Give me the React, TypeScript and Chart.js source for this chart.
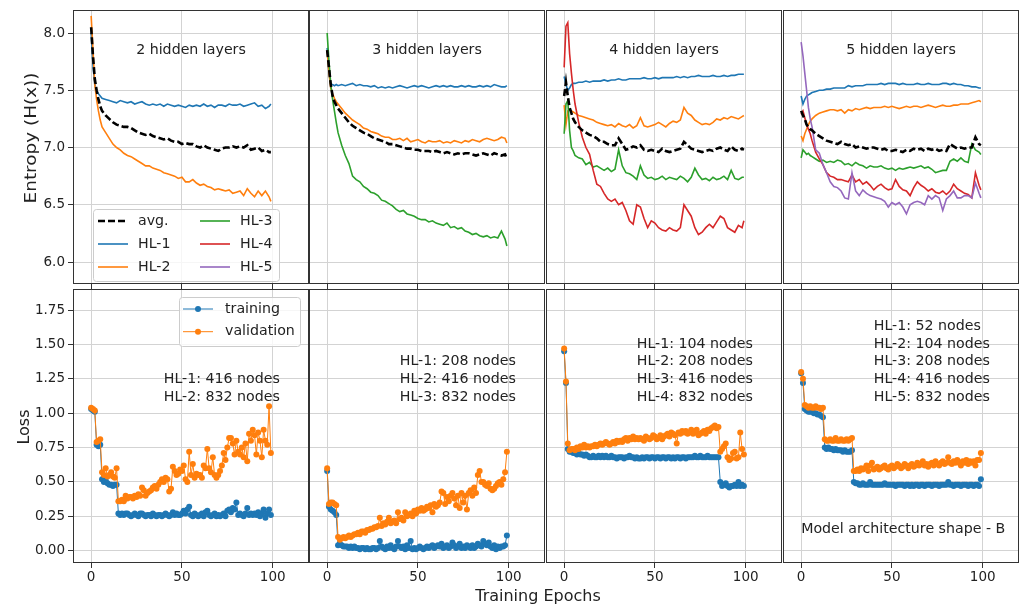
import React, { useEffect, useRef } from 'react';
import { Chart, registerables } from 'chart.js';

Chart.register(...registerables);

const FONT = "'DejaVu Sans', 'Liberation Sans', sans-serif";
const TEXT_COLOR = '#222222';
const GRID_COLOR = '#d3d3d3';
const SPINE_COLOR = '#333333';
const C_AVG = '#000000';
const C_HL = ['#1f77b4', '#ff7f0e', '#2ca02c', '#d62728', '#9467bd'];
const C_TRAIN = '#1f77b4';
const C_VAL = '#ff7f0e';

// ---------------- tick labels / categories ----------------
const X_TICKS = [0, 50, 100];
const ENTROPY_TICKS = [6.0, 6.5, 7.0, 7.5, 8.0];
const LOSS_TICKS = [0, 0.25, 0.5, 0.75, 1.0, 1.25, 1.5, 1.75];
const PANEL_TITLES = ['2 hidden layers', '3 hidden layers', '4 hidden layers', '5 hidden layers'];
const NODE_NOTES = [
  ['HL-1: 416 nodes', 'HL-2: 832 nodes'],
  ['HL-1: 208 nodes', 'HL-2: 416 nodes', 'HL-3: 832 nodes'],
  ['HL-1: 104 nodes', 'HL-2: 208 nodes', 'HL-3: 416 nodes', 'HL-4: 832 nodes'],
  ['HL-1: 52 nodes', 'HL-2: 104 nodes', 'HL-3: 208 nodes', 'HL-4: 416 nodes', 'HL-5: 832 nodes'],
];
const SHAPE_NOTE = 'Model architecture shape - B';
const ENTROPY_LEGEND = ['avg.', 'HL-1', 'HL-2', 'HL-3', 'HL-4', 'HL-5'];
const LOSS_LEGEND = ['training', 'validation'];
const Y_LABEL_TOP = 'Entropy (H(x))';
const Y_LABEL_BOTTOM = 'Loss';
const X_LABEL = 'Training Epochs';

// ---------------- epochs ----------------
const EPOCHS_TOP = [0, 1, 2, 3, 4, 5, 6,
  8, 10, 12, 14, 16, 18, 20,
  22, 24, 26, 28, 30, 32, 34, 36, 38, 40,
  42, 44, 46, 48, 50, 52, 54, 56, 58, 60,
  62, 64, 66, 68, 70, 72, 74, 76, 78, 80,
  82, 84, 86, 88, 90, 92, 94, 96, 98,
  99];
const EPOCHS = [0, 1, 2, 3, 4, 5, 6, 7, 8, 9,
  10, 11, 12, 13, 14, 15, 16, 17, 18, 19,
  20, 21, 22, 23, 24, 25, 26, 27, 28, 29,
  30, 31, 32, 33, 34, 35, 36, 37, 38, 39,
  40, 41, 42, 43, 44, 45, 46, 47, 48, 49,
  50, 51, 52, 53, 54, 55, 56, 57, 58, 59,
  60, 61, 62, 63, 64, 65, 66, 67, 68, 69,
  70, 71, 72, 73, 74, 75, 76, 77, 78, 79,
  80, 81, 82, 83, 84, 85, 86, 87, 88, 89,
  90, 91, 92, 93, 94, 95, 96, 97, 98, 99];

// ---------------- entropy: 2 hidden layers ----------------
const H2_AVG = [8.05, 7.8, 7.6, 7.5, 7.42, 7.36, 7.32,
  7.28, 7.25, 7.22, 7.2, 7.19, 7.18, 7.18,
  7.17, 7.15, 7.13, 7.12, 7.11, 7.12, 7.10, 7.09, 7.08, 7.07,
  7.08, 7.06, 7.05, 7.05, 7.03, 7.04, 7.03, 7.03, 7.01, 7.00,
  7.02, 7.00, 6.99, 6.98, 6.97, 6.99, 7.00, 7.00, 7.01, 7.00,
  7.01, 7.00, 7.02, 6.98, 6.99, 7.00, 6.97, 6.98, 6.96,
  6.96];
const H2_HL1 = [8.0, 7.72, 7.55, 7.5, 7.47, 7.45, 7.43,
  7.42, 7.41, 7.40, 7.39, 7.41, 7.40, 7.39,
  7.40, 7.38, 7.39, 7.40, 7.38, 7.37, 7.38, 7.37, 7.38, 7.36,
  7.38, 7.37, 7.36, 7.37, 7.36, 7.35, 7.37, 7.36, 7.37, 7.36,
  7.38, 7.36, 7.37, 7.35, 7.37, 7.37, 7.36, 7.38, 7.37, 7.37,
  7.38, 7.36, 7.37, 7.38, 7.39, 7.36, 7.37, 7.34, 7.36,
  7.38];
const H2_HL2 = [8.15, 7.85, 7.55, 7.42, 7.32, 7.24, 7.18,
  7.13, 7.08, 7.03, 7.0, 6.98, 6.95, 6.93,
  6.92, 6.90, 6.88, 6.86, 6.84, 6.84, 6.82, 6.81, 6.80, 6.78,
  6.77, 6.76, 6.75, 6.73, 6.74, 6.70, 6.70, 6.72, 6.69, 6.67,
  6.68, 6.66, 6.65, 6.63, 6.64, 6.63, 6.62, 6.63, 6.60, 6.61,
  6.62, 6.58, 6.64, 6.60, 6.57, 6.62, 6.58, 6.62, 6.57,
  6.53];

// ---------------- entropy: 3 hidden layers ----------------
const H3_AVG = [7.85, 7.7, 7.55, 7.45, 7.40, 7.37, 7.34,
  7.30, 7.26, 7.22, 7.19, 7.17, 7.15, 7.13,
  7.12, 7.10, 7.08, 7.07, 7.06, 7.05, 7.03, 7.03, 7.02, 7.01,
  7.00, 6.99, 6.99, 6.98, 6.98, 6.97, 6.97, 6.97, 6.96, 6.97,
  6.96, 6.95, 6.96, 6.95, 6.94, 6.95, 6.94, 6.95, 6.95, 6.94,
  6.93, 6.94, 6.95, 6.94, 6.93, 6.95, 6.94, 6.93, 6.94,
  6.90];
const H3_HL1 = [7.87, 7.65, 7.55, 7.55, 7.54, 7.55, 7.54,
  7.55, 7.54, 7.55, 7.56, 7.54, 7.55, 7.54,
  7.54, 7.53, 7.54, 7.52, 7.53, 7.52, 7.53, 7.52, 7.53, 7.54,
  7.53, 7.52, 7.53, 7.54, 7.53, 7.54, 7.53, 7.52, 7.53, 7.54,
  7.53, 7.54, 7.53, 7.54, 7.53, 7.53, 7.54, 7.53, 7.54, 7.53,
  7.53, 7.54, 7.53, 7.54, 7.53, 7.55, 7.54, 7.53, 7.53,
  7.54];
const H3_HL2 = [7.85, 7.65, 7.52, 7.47, 7.43, 7.40, 7.38,
  7.34, 7.30, 7.27, 7.24, 7.22, 7.20, 7.17,
  7.16, 7.14, 7.13, 7.12, 7.10, 7.09, 7.09, 7.07, 7.07, 7.08,
  7.06, 7.08, 7.05, 7.06, 7.07, 7.05, 7.04, 7.06, 7.05, 7.05,
  7.06, 7.04, 7.05, 7.04, 7.06, 7.05, 7.04, 7.06, 7.05, 7.07,
  7.06, 7.05, 7.07, 7.08, 7.07, 7.06, 7.07, 7.09, 7.08,
  7.04];
const H3_HL3 = [8.0, 7.75, 7.55, 7.42, 7.32, 7.22, 7.13,
  7.02, 6.93, 6.86, 6.75, 6.72, 6.70, 6.66,
  6.64, 6.61, 6.60, 6.58, 6.54, 6.53, 6.51, 6.49, 6.46, 6.44,
  6.45, 6.42, 6.41, 6.40, 6.38, 6.37, 6.37, 6.35, 6.36, 6.34,
  6.33, 6.32, 6.34, 6.30, 6.31, 6.29, 6.30, 6.27, 6.26, 6.24,
  6.25, 6.23, 6.22, 6.23, 6.21, 6.22, 6.21, 6.27, 6.20,
  6.14];

// ---------------- entropy: 4 hidden layers ----------------
const H4_AVG = [7.45, 7.57, 7.45, 7.35, 7.30, 7.25, 7.22,
  7.18, 7.15, 7.13, 7.11, 7.10, 7.08, 7.05,
  7.05, 7.03, 7.02, 7.02, 7.08, 7.03, 6.98, 6.99, 7.01, 7.00,
  7.02, 6.98, 6.97, 6.98, 6.97, 6.96, 6.99, 6.97, 6.96, 6.97,
  6.98, 6.99, 7.05, 7.02, 6.99, 6.98, 6.97, 6.96, 6.97, 6.98,
  6.97, 6.99, 7.00, 6.98, 6.97, 7.01, 6.98, 6.97, 6.99,
  6.98];
const H4_HL1 = [7.62, 7.55, 7.50, 7.52, 7.55, 7.56, 7.56,
  7.57, 7.57, 7.58, 7.57, 7.58, 7.58, 7.58,
  7.59, 7.58, 7.59, 7.59, 7.60, 7.59, 7.59, 7.60, 7.60, 7.60,
  7.60, 7.61, 7.60, 7.60, 7.61, 7.60, 7.61, 7.61, 7.61, 7.61,
  7.62, 7.61, 7.62, 7.61, 7.62, 7.62, 7.63, 7.62, 7.62, 7.62,
  7.63, 7.62, 7.62, 7.63, 7.62, 7.63, 7.63, 7.64, 7.64,
  7.64];
const H4_HL2 = [7.37, 7.20, 7.32, 7.33, 7.32, 7.31, 7.30,
  7.28, 7.27, 7.26, 7.25, 7.24, 7.22, 7.21,
  7.20, 7.19, 7.20, 7.18, 7.21, 7.19, 7.18, 7.20, 7.17, 7.19,
  7.26, 7.19, 7.18, 7.19, 7.20, 7.22, 7.20, 7.18, 7.21, 7.23,
  7.22, 7.24, 7.35, 7.30, 7.28, 7.24, 7.22, 7.20, 7.21, 7.20,
  7.22, 7.25, 7.24, 7.26, 7.25, 7.27, 7.26, 7.25, 7.27,
  7.28];
const H4_HL3 = [7.12, 7.38, 7.41, 7.15, 7.00, 6.97, 6.93,
  6.91, 6.90, 6.85, 6.87, 6.83, 6.84, 6.82,
  6.80, 6.82, 6.79, 6.81, 6.98, 6.84, 6.78, 6.77, 6.75, 6.72,
  6.84, 6.76, 6.73, 6.74, 6.72, 6.73, 6.75, 6.72, 6.74, 6.73,
  6.72, 6.75, 6.73, 6.70, 6.74, 6.82, 6.76, 6.72, 6.73, 6.71,
  6.74, 6.72, 6.73, 6.75, 6.72, 6.80, 6.73, 6.72, 6.74,
  6.74];
const H4_HL4 = [7.70, 8.06, 8.09, 7.82, 7.65, 7.50, 7.38,
  7.22, 7.09, 7.00, 6.94, 6.80, 6.68, 6.66,
  6.60, 6.55, 6.53, 6.55, 6.50, 6.52, 6.45, 6.36, 6.33, 6.50,
  6.48, 6.38, 6.30, 6.36, 6.34, 6.30, 6.28, 6.27, 6.30, 6.28,
  6.27, 6.30, 6.50, 6.45, 6.40, 6.30, 6.24, 6.26, 6.30, 6.33,
  6.30, 6.35, 6.40, 6.38, 6.30, 6.28, 6.26, 6.32, 6.30,
  6.36];

// ---------------- entropy: 5 hidden layers ----------------
const H5_AVG = [7.32, 7.28, 7.25, 7.20, 7.18, 7.16, 7.15,
  7.12, 7.10, 7.08, 7.06, 7.05, 7.04, 7.03,
  7.05, 7.03, 7.02, 7.03, 7.00, 7.01, 7.00, 6.99, 7.00, 7.00,
  6.99, 6.98, 6.99, 6.97, 6.97, 6.98, 6.97, 6.96, 6.98, 6.97,
  6.99, 6.98, 6.99, 6.97, 6.99, 6.98, 6.99, 6.97, 6.98, 6.97,
  7.03, 7.01, 6.99, 7.00, 6.99, 7.00, 7.00, 7.09, 7.03,
  7.02];
const H5_HL1 = [7.45, 7.38, 7.42, 7.45, 7.46, 7.47, 7.48,
  7.49, 7.50, 7.50, 7.51, 7.51, 7.52, 7.52,
  7.52, 7.52, 7.54, 7.53, 7.54, 7.54, 7.54, 7.55, 7.55, 7.55,
  7.55, 7.56, 7.55, 7.56, 7.56, 7.56, 7.55, 7.56, 7.55, 7.55,
  7.55, 7.56, 7.55, 7.55, 7.56, 7.55, 7.55, 7.55, 7.56, 7.56,
  7.55, 7.56, 7.55, 7.55, 7.54, 7.54, 7.53, 7.53, 7.52,
  7.52];
const H5_HL2 = [7.10, 7.06, 7.12, 7.16, 7.20, 7.23, 7.25,
  7.28, 7.30, 7.31, 7.32, 7.33, 7.33, 7.32,
  7.33, 7.30, 7.33, 7.32, 7.34, 7.33, 7.34, 7.35, 7.34, 7.35,
  7.35, 7.35, 7.36, 7.35, 7.36, 7.35, 7.34, 7.35, 7.36, 7.35,
  7.36, 7.36, 7.35, 7.36, 7.37, 7.36, 7.35, 7.36, 7.37, 7.36,
  7.36, 7.37, 7.37, 7.38, 7.38, 7.38, 7.39, 7.40, 7.41,
  7.40];
const H5_HL3 = [6.91, 6.98, 6.96, 6.94, 6.95, 6.93, 6.92,
  6.90, 6.88, 6.89, 6.87, 6.88, 6.87, 6.89,
  6.88, 6.85, 6.86, 6.84, 6.87, 6.85, 6.84, 6.82, 6.84, 6.83,
  6.83, 6.84, 6.82, 6.81, 6.82, 6.80, 6.82, 6.81, 6.82, 6.83,
  6.82, 6.83, 6.84, 6.82, 6.83, 6.81, 6.78, 6.79, 6.80, 6.80,
  6.88, 6.90, 6.88, 6.91, 6.88, 6.87, 7.03, 6.98, 6.96,
  6.94];
const H5_HL4 = [7.29, 7.32, 7.26, 7.20, 7.16, 7.12, 7.06,
  6.96, 6.90, 6.85, 6.78, 6.75, 6.74, 6.72,
  6.72, 6.71, 6.70, 6.76, 6.70, 6.72, 6.68, 6.70, 6.67, 6.63,
  6.66, 6.68, 6.65, 6.63, 6.64, 6.72, 6.66, 6.63, 6.62, 6.58,
  6.65, 6.70, 6.67, 6.65, 6.62, 6.64, 6.61, 6.60, 6.62, 6.59,
  6.62, 6.68, 6.64, 6.62, 6.60, 6.59, 6.56, 6.78, 6.67,
  6.63];
const H5_HL5 = [7.92, 7.80, 7.65, 7.50, 7.35, 7.25, 7.18,
  6.98, 6.95, 6.85, 6.78, 6.70, 6.66, 6.65,
  6.62, 6.56, 6.55, 6.78, 6.62, 6.58, 6.63, 6.60, 6.58, 6.57,
  6.56, 6.55, 6.53, 6.48, 6.52, 6.50, 6.52, 6.48, 6.42, 6.50,
  6.52, 6.53, 6.52, 6.50, 6.58, 6.55, 6.58, 6.56, 6.45, 6.55,
  6.58, 6.62, 6.56, 6.56, 6.58, 6.58, 6.56, 6.69, 6.60,
  6.56];

// ---------------- loss series ----------------
const L2_TRAIN = [1.03, 1.02, 1.01, 0.77, 0.76, 0.77, 0.52, 0.50, 0.51, 0.49,
  0.48, 0.48, 0.47, 0.48, 0.48, 0.27, 0.26, 0.27, 0.26, 0.27,
  0.27, 0.26, 0.25, 0.26, 0.27, 0.26, 0.25, 0.27, 0.27, 0.26,
  0.25, 0.26, 0.26, 0.25, 0.27, 0.26, 0.25, 0.26, 0.26, 0.25,
  0.26, 0.27, 0.26, 0.25, 0.26, 0.28, 0.26, 0.27, 0.26, 0.26,
  0.27, 0.29, 0.27, 0.30, 0.32, 0.26, 0.25, 0.27, 0.26, 0.25,
  0.26, 0.27, 0.25, 0.28, 0.29, 0.26, 0.25, 0.26, 0.27, 0.25,
  0.26, 0.25, 0.26, 0.27, 0.25, 0.29, 0.30, 0.28, 0.31, 0.30,
  0.35, 0.26, 0.27, 0.26, 0.25, 0.27, 0.31, 0.26, 0.27, 0.26,
  0.27, 0.26, 0.28, 0.25, 0.27, 0.30, 0.24, 0.27, 0.30, 0.26];
const L2_VAL = [1.04, 1.03, 1.02, 0.79, 0.80, 0.81, 0.57, 0.55, 0.60, 0.54,
  0.55, 0.57, 0.54, 0.53, 0.60, 0.36, 0.36, 0.37, 0.36, 0.40,
  0.38, 0.39, 0.39, 0.38, 0.40, 0.39, 0.41, 0.40, 0.46, 0.44,
  0.40, 0.42, 0.43, 0.44, 0.46, 0.47, 0.45, 0.48, 0.50, 0.52,
  0.50, 0.53, 0.52, 0.43, 0.45, 0.61, 0.58, 0.55, 0.56, 0.59,
  0.58, 0.62, 0.52, 0.50, 0.72, 0.55, 0.63, 0.53, 0.56, 0.55,
  0.55, 0.53, 0.62, 0.60, 0.74, 0.60, 0.57, 0.68, 0.55, 0.53,
  0.55, 0.58, 0.62, 0.71, 0.66, 0.75, 0.82, 0.82, 0.78, 0.70,
  0.80, 0.72, 0.70, 0.75, 0.68, 0.78, 0.65, 0.85, 0.80, 0.88,
  0.84, 0.70, 0.86, 0.80, 0.68, 0.88, 0.80, 0.77, 1.05, 0.71];
const L3_TRAIN = [0.58, 0.32, 0.30, 0.29, 0.28, 0.26, 0.04, 0.05, 0.04, 0.03,
  0.03, 0.03, 0.02, 0.03, 0.02, 0.03, 0.02, 0.02, 0.01, 0.02,
  0.02, 0.01, 0.02, 0.01, 0.01, 0.02, 0.02, 0.01, 0.02, 0.07,
  0.03, 0.02, 0.01, 0.03, 0.02, 0.04, 0.02, 0.01, 0.03, 0.07,
  0.03, 0.02, 0.03, 0.01, 0.04, 0.02, 0.07, 0.01, 0.02, 0.01,
  0.02, 0.03, 0.02, 0.01, 0.02, 0.03, 0.02, 0.03, 0.04, 0.02,
  0.03, 0.04, 0.03, 0.05, 0.02, 0.03, 0.04, 0.02, 0.03, 0.06,
  0.04, 0.02, 0.03, 0.05, 0.02, 0.03, 0.02, 0.04, 0.03, 0.02,
  0.04, 0.02, 0.03, 0.05, 0.04, 0.03, 0.07, 0.05, 0.04, 0.06,
  0.03, 0.02, 0.04, 0.01, 0.03, 0.02, 0.03, 0.03, 0.04, 0.11];
const L3_VAL = [0.60, 0.34, 0.35, 0.35, 0.34, 0.33, 0.10, 0.08, 0.09, 0.10,
  0.09, 0.10, 0.11, 0.10, 0.11, 0.12, 0.12, 0.13, 0.12, 0.14,
  0.14, 0.13, 0.15, 0.15, 0.16, 0.16, 0.17, 0.17, 0.18, 0.24,
  0.18, 0.20, 0.19, 0.21, 0.24, 0.20, 0.21, 0.22, 0.20, 0.28,
  0.23, 0.24, 0.22, 0.28, 0.25, 0.26, 0.27, 0.25, 0.29, 0.27,
  0.30, 0.29, 0.31, 0.29, 0.30, 0.32, 0.31, 0.33, 0.28, 0.34,
  0.32, 0.33, 0.35, 0.43, 0.42, 0.34, 0.39, 0.36, 0.40, 0.42,
  0.38, 0.33, 0.40, 0.31, 0.42, 0.35, 0.40, 0.30, 0.42, 0.44,
  0.40, 0.46, 0.42, 0.55, 0.58, 0.50, 0.50, 0.48, 0.47, 0.49,
  0.45, 0.44, 0.45, 0.47, 0.49, 0.50, 0.48, 0.52, 0.57, 0.72];
const L4_TRAIN = [1.45, 1.22, 0.74, 0.72, 0.72, 0.71, 0.71, 0.70, 0.71, 0.70,
  0.70, 0.69, 0.70, 0.69, 0.68, 0.68, 0.69, 0.68, 0.68, 0.69,
  0.68, 0.69, 0.68, 0.69, 0.68, 0.68, 0.69, 0.68, 0.68, 0.67,
  0.68, 0.68, 0.68, 0.67, 0.68, 0.68, 0.69, 0.68, 0.68, 0.67,
  0.68, 0.67, 0.67, 0.68, 0.67, 0.68, 0.68, 0.67, 0.68, 0.68,
  0.67, 0.68, 0.68, 0.67, 0.68, 0.68, 0.67, 0.68, 0.68, 0.67,
  0.68, 0.67, 0.68, 0.68, 0.67, 0.68, 0.68, 0.67, 0.68, 0.68,
  0.68, 0.68, 0.69, 0.68, 0.68, 0.69, 0.68, 0.68, 0.68, 0.69,
  0.68, 0.68, 0.68, 0.68, 0.68, 0.68, 0.50, 0.47, 0.48, 0.49,
  0.47, 0.46, 0.47, 0.47, 0.48, 0.47, 0.50, 0.47, 0.48, 0.47];
const L4_VAL = [1.47, 1.23, 0.78, 0.73, 0.74, 0.74, 0.73, 0.75, 0.74, 0.76,
  0.75, 0.77, 0.75, 0.76, 0.75, 0.76, 0.76, 0.77, 0.76, 0.77,
  0.78, 0.77, 0.78, 0.79, 0.78, 0.77, 0.78, 0.79, 0.78, 0.80,
  0.79, 0.80, 0.79, 0.81, 0.82, 0.80, 0.82, 0.81, 0.83, 0.81,
  0.82, 0.81, 0.82, 0.81, 0.80, 0.83, 0.82, 0.81, 0.82, 0.84,
  0.83, 0.81, 0.82, 0.84, 0.81, 0.83, 0.84, 0.85, 0.83, 0.86,
  0.85, 0.84, 0.78, 0.86, 0.85, 0.87, 0.86, 0.87, 0.85, 0.86,
  0.88, 0.85, 0.86, 0.88, 0.84, 0.85, 0.86, 0.87, 0.85, 0.88,
  0.87, 0.89, 0.90, 0.91, 0.89, 0.90, 0.72, 0.74, 0.76, 0.78,
  0.68, 0.66, 0.67, 0.71, 0.72, 0.67, 0.68, 0.86, 0.74, 0.70];
const L5_TRAIN = [1.29, 1.22, 1.03, 1.02, 1.01, 1.01, 1.01, 1.00, 1.00, 0.99,
  0.99, 0.98, 0.97, 0.75, 0.74, 0.75, 0.74, 0.74, 0.73, 0.74,
  0.73, 0.73, 0.73, 0.72, 0.73, 0.72, 0.72, 0.72, 0.73, 0.50,
  0.49, 0.49, 0.48, 0.48, 0.49, 0.48, 0.48, 0.48, 0.50, 0.48,
  0.48, 0.48, 0.48, 0.48, 0.48, 0.48, 0.49, 0.48, 0.48, 0.48,
  0.48, 0.48, 0.47, 0.48, 0.48, 0.48, 0.48, 0.47, 0.48, 0.48,
  0.47, 0.48, 0.47, 0.48, 0.48, 0.47, 0.48, 0.48, 0.47, 0.48,
  0.48, 0.48, 0.47, 0.48, 0.48, 0.48, 0.47, 0.48, 0.48, 0.48,
  0.48, 0.50, 0.48, 0.48, 0.47, 0.48, 0.48, 0.48, 0.47, 0.48,
  0.48, 0.48, 0.47, 0.48, 0.48, 0.47, 0.48, 0.48, 0.47, 0.52];
const L5_VAL = [1.30, 1.25, 1.06, 1.05, 1.04, 1.05, 1.04, 1.04, 1.05, 1.04,
  1.04, 1.03, 1.04, 0.81, 0.80, 0.80, 0.81, 0.80, 0.80, 0.82,
  0.80, 0.80, 0.81, 0.80, 0.80, 0.81, 0.80, 0.81, 0.82, 0.58,
  0.58, 0.59, 0.58, 0.60, 0.59, 0.60, 0.62, 0.58, 0.62, 0.64,
  0.59, 0.60, 0.61, 0.59, 0.60, 0.61, 0.62, 0.60, 0.59, 0.61,
  0.62, 0.60, 0.61, 0.63, 0.62, 0.60, 0.61, 0.63, 0.62, 0.60,
  0.62, 0.63, 0.61, 0.62, 0.64, 0.62, 0.63, 0.65, 0.62, 0.63,
  0.61, 0.63, 0.64, 0.62, 0.65, 0.63, 0.62, 0.64, 0.65, 0.63,
  0.64, 0.68, 0.64, 0.63, 0.65, 0.64, 0.66, 0.64, 0.62, 0.65,
  0.64, 0.66, 0.63, 0.65, 0.64, 0.65, 0.62, 0.66, 0.66, 0.71];

const ENTROPY_PANELS = [
  [H2_AVG, H2_HL1, H2_HL2],
  [H3_AVG, H3_HL1, H3_HL2, H3_HL3],
  [H4_AVG, H4_HL1, H4_HL2, H4_HL3, H4_HL4],
  [H5_AVG, H5_HL1, H5_HL2, H5_HL3, H5_HL4, H5_HL5],
];
const LOSS_PANELS = [
  [L2_TRAIN, L2_VAL],
  [L3_TRAIN, L3_VAL],
  [L4_TRAIN, L4_VAL],
  [L5_TRAIN, L5_VAL],
];

// ---------------- layout (pixels) ----------------
const COL_LEFT = [73, 309, 546, 783];
const AREA_W = 236;
const ROW_TOP = [10, 289];
const AREA_H = 274;
const TOP_RANGE = [5.808, 8.201];
const LOSS_RANGE = [-0.0894, 1.9027];
const X_RANGE = [-10, 120];
const TICK_TXT = 13.5;
const TXT = 14.2;

function geom(row: number, col: number) {
  const padL = col === 0 ? 73 : 14;
  const padR = 24;
  const padT = 16;
  const padB = row === 0 ? 16 : 34;
  return {
    padL, padR, padT, padB,
    left: COL_LEFT[col] - padL,
    top: ROW_TOP[row] - padT,
    w: padL + AREA_W + padR,
    h: padT + AREA_H + padB,
  };
}

const decorPlugin = {
  id: 'decor',
  afterDraw(chart: any, _args: any, opts: any) {
    const { ctx, chartArea: ca, scales } = chart;
    const xs = scales.x;
    const ys = scales.y;
    ctx.save();
    ctx.font = `${TXT}px ${FONT}`;
    ctx.textBaseline = 'middle';
    ctx.fillStyle = TEXT_COLOR;
    (opts.texts || []).forEach((t: any) => {
      ctx.textAlign = t.align;
      ctx.fillStyle = TEXT_COLOR;
      ctx.fillText(t.text, xs.getPixelForValue(t.x), ys.getPixelForValue(t.y) + (t.dy || 0));
    });
    const lg = opts.legend;
    if (lg) {
      const bx = ca.left + lg.left;
      const by = ca.top + lg.top;
      ctx.beginPath();
      if (ctx.roundRect) ctx.roundRect(bx + 0.5, by + 0.5, lg.w, lg.h, 3);
      else ctx.rect(bx + 0.5, by + 0.5, lg.w, lg.h);
      ctx.fillStyle = 'rgba(255,255,255,0.8)';
      ctx.fill();
      ctx.strokeStyle = '#cccccc';
      ctx.lineWidth = 1;
      ctx.stroke();
      lg.items.forEach((it: any, i: number) => {
        const col = Math.floor(i / lg.rows);
        const row = i % lg.rows;
        const hx = bx + lg.padX + col * lg.colW;
        const hy = by + lg.padY + row * lg.rowH;
        ctx.beginPath();
        ctx.setLineDash(it.dash || []);
        ctx.strokeStyle = it.color;
        ctx.lineWidth = it.width;
        ctx.moveTo(hx, hy);
        ctx.lineTo(hx + lg.handle, hy);
        ctx.stroke();
        ctx.setLineDash([]);
        if (it.marker) {
          ctx.beginPath();
          ctx.arc(hx + lg.handle / 2, hy, 3, 0, Math.PI * 2);
          ctx.fillStyle = it.color;
          ctx.fill();
        }
        ctx.fillStyle = TEXT_COLOR;
        ctx.textAlign = 'left';
        ctx.fillText(it.label, hx + lg.handle + lg.gap, hy);
      });
    }
    ctx.strokeStyle = SPINE_COLOR;
    ctx.lineWidth = 1;
    ctx.strokeRect(ca.left + 0.5, ca.top + 0.5, ca.right - ca.left - 1, ca.bottom - ca.top - 1);
    ctx.restore();
  },
};

function toPoints(xs: number[], ys: number[]) {
  return ys.map((y, i) => ({ x: xs[i], y }));
}

function entropyDatasets(col: number) {
  const series = ENTROPY_PANELS[col];
  return series.map((ys, i) => {
    const isAvg = i === 0;
    return {
      label: ENTROPY_LEGEND[i],
      data: toPoints(EPOCHS_TOP, ys),
      borderColor: isAvg ? C_AVG : C_HL[i - 1],
      backgroundColor: isAvg ? C_AVG : C_HL[i - 1],
      borderWidth: isAvg ? 2.6 : 1.6,
      borderDash: isAvg ? [7, 3] : [],
      pointRadius: 0,
      tension: 0,
      order: isAvg ? 0 : 10 - i,
    };
  });
}

function lossDatasets(col: number) {
  const [tr, va] = LOSS_PANELS[col];
  const mk = (ys: number[], color: string, label: string, order: number) => ({
    label,
    data: toPoints(EPOCHS, ys),
    borderColor: color,
    backgroundColor: color,
    pointBackgroundColor: color,
    pointBorderWidth: 0,
    pointRadius: 3,
    borderWidth: 1,
    tension: 0,
    order,
  });
  return [mk(tr, C_TRAIN, LOSS_LEGEND[0], 1), mk(va, C_VAL, LOSS_LEGEND[1], 0)];
}

function decorOptions(row: number, col: number) {
  const texts: any[] = [];
  let legend: any = null;
  if (row === 0) {
    texts.push({ x: 55, y: 7.85, text: PANEL_TITLES[col], align: 'center' });
    if (col === 0) {
      legend = {
        left: 20, top: 199, w: 186, h: 72, rows: 3, colW: 102, padX: 5, padY: 12, rowH: 23,
        handle: 30, gap: 10,
        items: ENTROPY_LEGEND.map((label, i) => ({
          label,
          color: i === 0 ? C_AVG : C_HL[i - 1],
          width: i === 0 ? 2.6 : 1.6,
          dash: i === 0 ? [7, 3] : [],
        })),
      };
    }
  } else {
    const lines = NODE_NOTES[col];
    lines.forEach((text, i) => {
      texts.push({ x: 40, y: 1.115, dy: -17.8 * (lines.length - 1 - i), text, align: 'left' });
    });
    if (col === 3) texts.push({ x: 0, y: 0.158, text: SHAPE_NOTE, align: 'left' });
    if (col === 0) {
      legend = {
        left: 106, top: 8, w: 121, h: 49, rows: 2, colW: 0, padX: 4, padY: 12, rowH: 22.7,
        handle: 30, gap: 12,
        items: LOSS_LEGEND.map((label, i) => ({
          label, color: i === 0 ? C_TRAIN : C_VAL, width: 1, marker: true,
        })),
      };
    }
  }
  return { texts, legend };
}

function makeConfig(row: number, col: number): any {
  const g = geom(row, col);
  const isTop = row === 0;
  const yTicks = isTop ? ENTROPY_TICKS : LOSS_TICKS;
  const yRange = isTop ? TOP_RANGE : LOSS_RANGE;
  const tickFont = { family: FONT, size: TICK_TXT };
  return {
    type: 'line',
    data: { datasets: isTop ? entropyDatasets(col) : lossDatasets(col) },
    plugins: [decorPlugin],
    options: {
      animation: false,
      responsive: false,
      maintainAspectRatio: false,
      devicePixelRatio: 1,
      events: [],
      layout: { padding: { left: 0, right: g.padR, top: g.padT, bottom: 0 } },
      plugins: {
        legend: { display: false },
        tooltip: { enabled: false },
        title: { display: false },
        decor: decorOptions(row, col),
      },
      scales: {
        x: {
          type: 'linear',
          min: X_RANGE[0],
          max: X_RANGE[1],
          afterBuildTicks: (s: any) => { s.ticks = X_TICKS.map((v) => ({ value: v })); },
          afterFit: (s: any) => { s.height = g.padB; },
          grid: { color: GRID_COLOR, lineWidth: 1, drawTicks: true, tickLength: 5, tickColor: SPINE_COLOR, tickWidth: 1 },
          border: { display: false },
          ticks: {
            display: !isTop, padding: 1, color: TEXT_COLOR, font: tickFont,
            autoSkip: false, maxRotation: 0, callback: (v: any) => String(v),
          },
        },
        y: {
          type: 'linear',
          min: yRange[0],
          max: yRange[1],
          afterBuildTicks: (s: any) => { s.ticks = yTicks.map((v) => ({ value: v })); },
          afterFit: (s: any) => { s.width = g.padL; },
          grid: { color: GRID_COLOR, lineWidth: 1, drawTicks: col === 0, tickLength: 5, tickColor: SPINE_COLOR, tickWidth: 1 },
          border: { display: false },
          ticks: {
            display: col === 0, padding: 3, color: TEXT_COLOR, font: tickFont, autoSkip: false,
            callback: (v: any) => Number(v).toFixed(isTop ? 1 : 2),
          },
        },
      },
    },
  };
}

const CELLS = [0, 1].flatMap((row) => [0, 1, 2, 3].map((col) => ({ row, col })));

export default function App() {
  const refs = useRef<(HTMLCanvasElement | null)[]>([]);
  useEffect(() => {
    const charts = CELLS.map(({ row, col }, i) => new Chart(refs.current[i] as HTMLCanvasElement, makeConfig(row, col)));
    return () => charts.forEach((c) => c.destroy());
  }, []);
  const labelStyle: React.CSSProperties = {
    position: 'absolute', fontFamily: FONT, color: TEXT_COLOR, fontSize: 16, whiteSpace: 'nowrap', lineHeight: 1,
  };
  return (
    <div style={{ position: 'fixed', left: 0, top: 0, width: 1020, height: 608, background: '#fff', overflow: 'hidden' }}>
      {CELLS.map(({ row, col }, i) => {
        const g = geom(row, col);
        return (
          <div key={i} style={{ position: 'absolute', left: g.left, top: g.top, width: g.w, height: g.h }}>
            <canvas
              ref={(el) => { refs.current[i] = el; }}
              width={g.w}
              height={g.h}
              style={{ display: 'block', width: g.w, height: g.h }}
            />
          </div>
        );
      })}
      <div style={{ ...labelStyle, left: 31, top: 138, transform: 'translate(-50%, -50%) rotate(-90deg) scaleX(1.15)' }}>{Y_LABEL_TOP}</div>
      <div style={{ ...labelStyle, left: 24, top: 427, transform: 'translate(-50%, -50%) rotate(-90deg)' }}>{Y_LABEL_BOTTOM}</div>
      <div style={{ ...labelStyle, left: 538, top: 596, transform: 'translate(-50%, -50%)' }}>{X_LABEL}</div>
    </div>
  );
}
